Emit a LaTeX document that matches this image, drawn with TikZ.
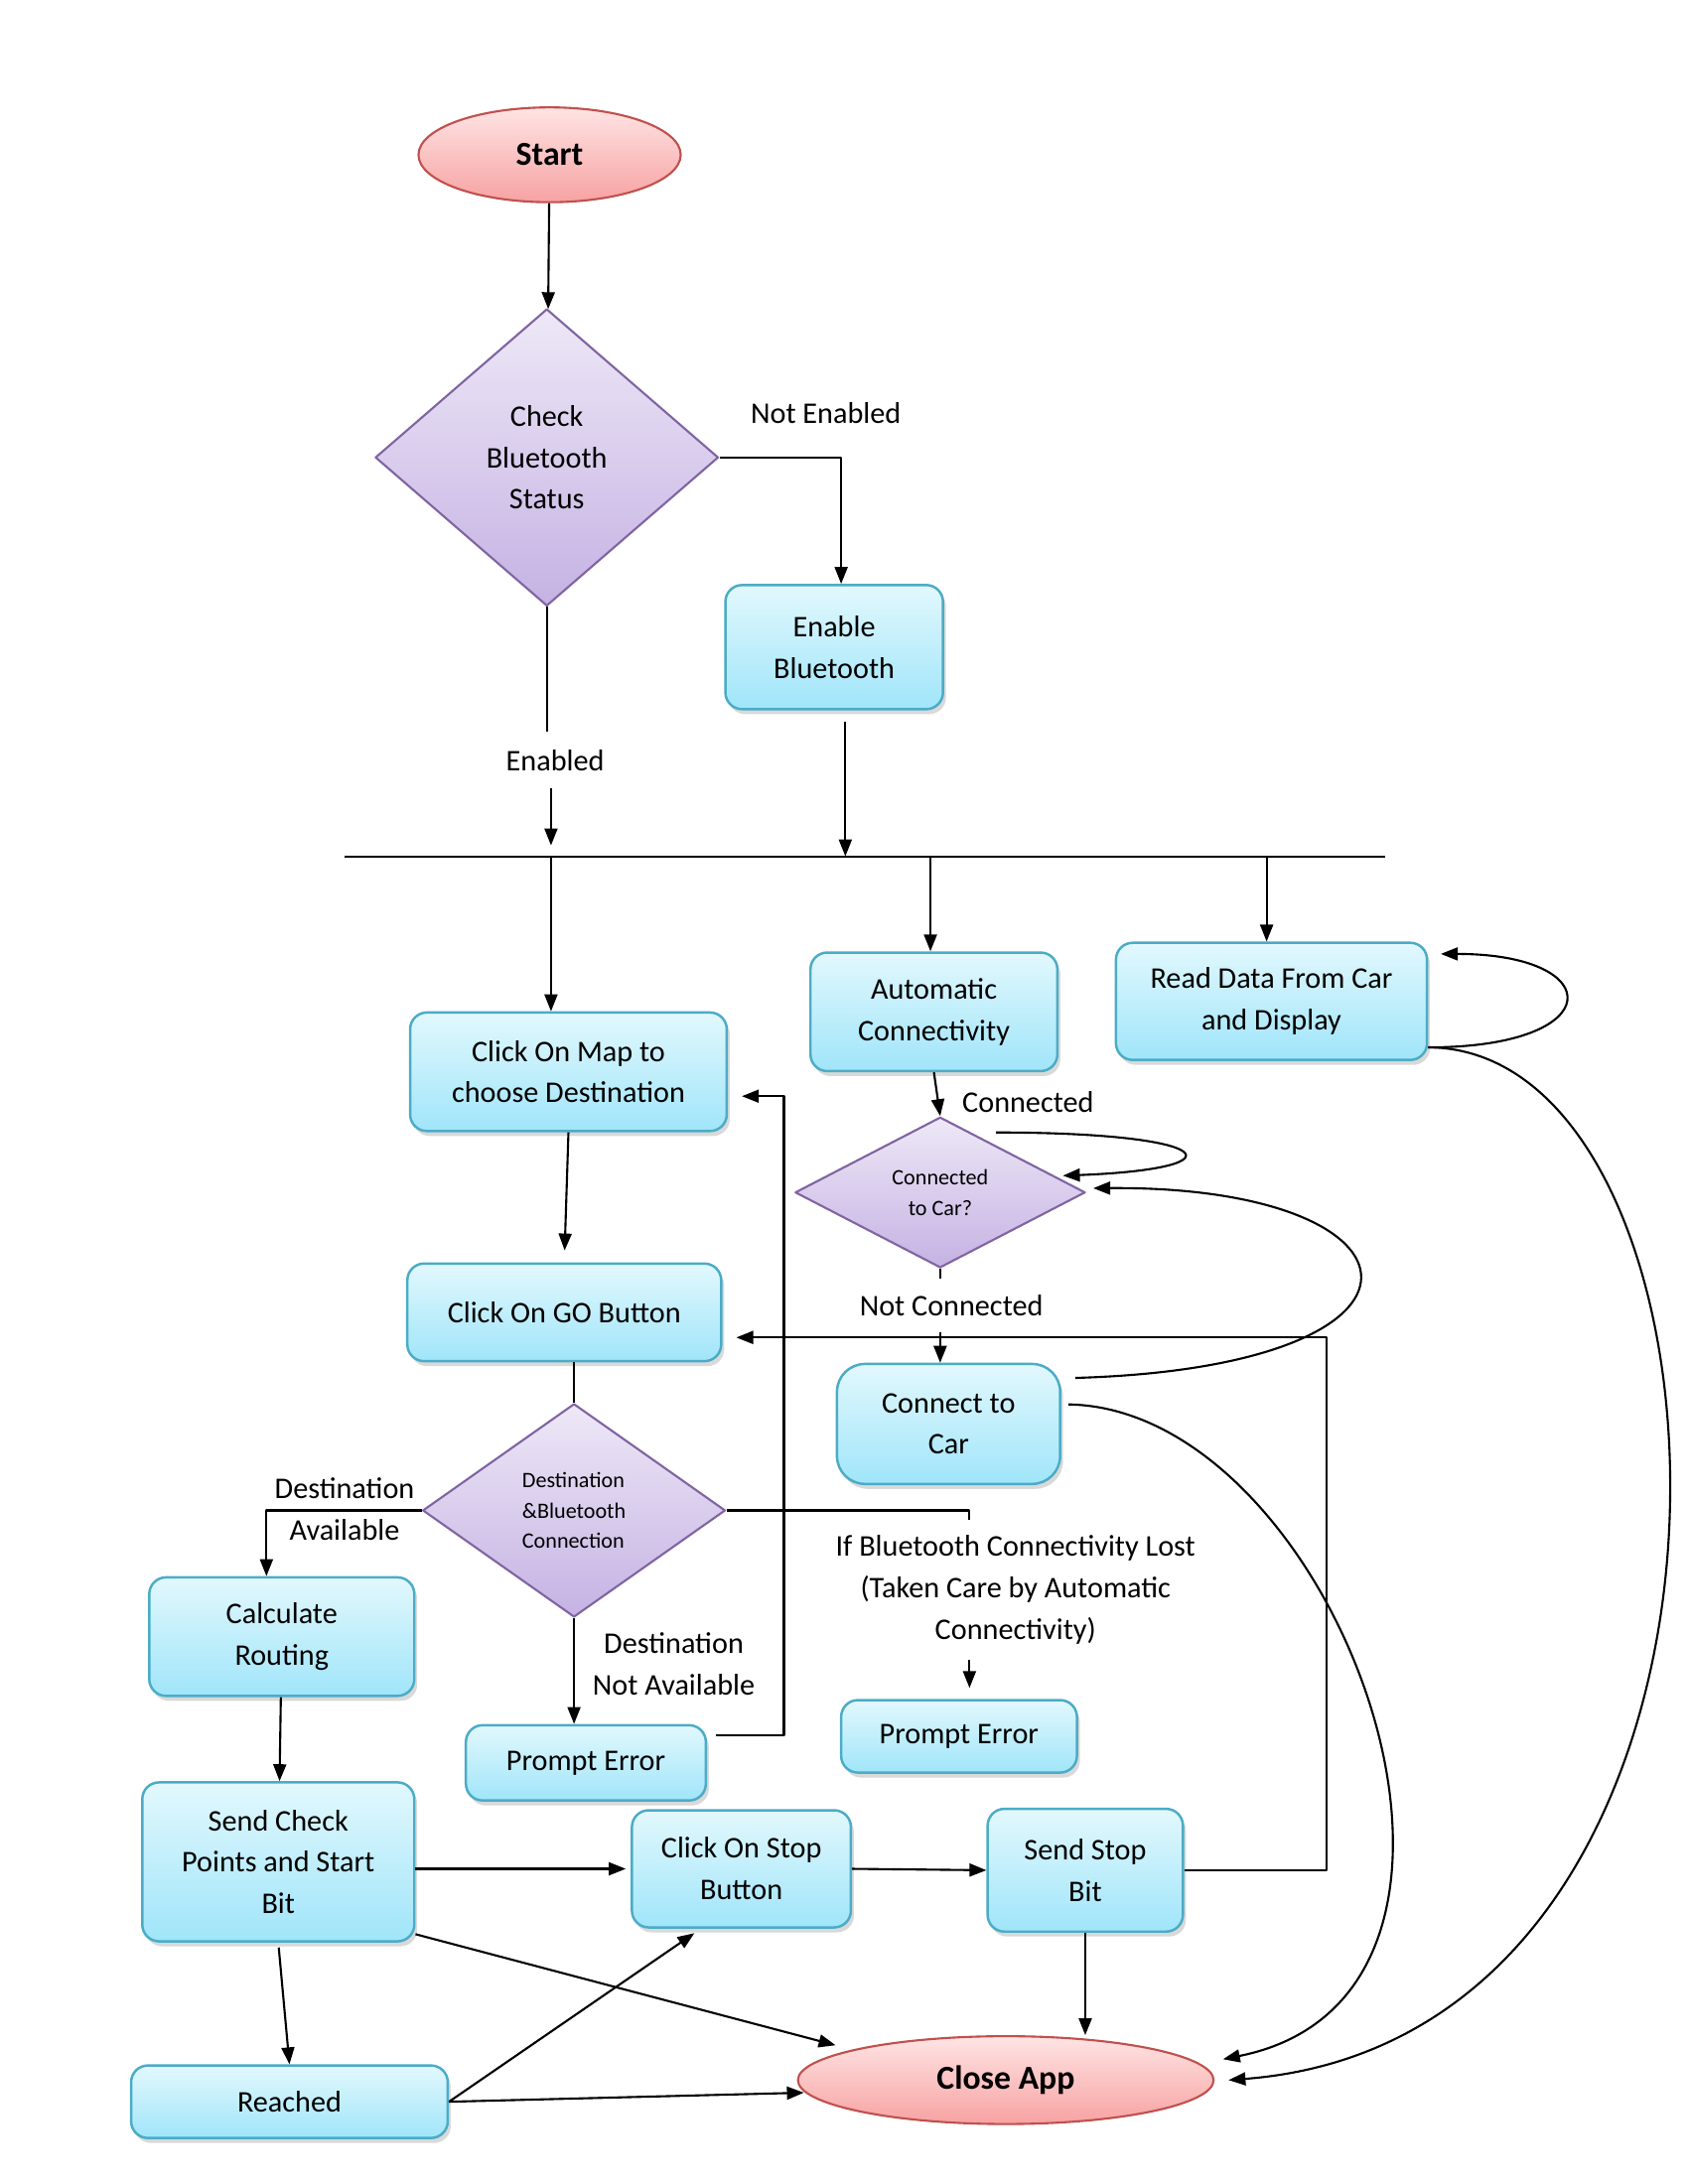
\documentclass[tikz,border=0pt]{standalone}
\usepackage{fontspec}
\setmainfont{Carlito}
\usetikzlibrary{shapes.geometric,arrows.meta,shadows}

\newlength{\px}
\setlength{\px}{0.1405mm}
\definecolor{boxline}{HTML}{4BACC6}
\definecolor{boxtop}{HTML}{E2F8FD}
\definecolor{boxbot}{HTML}{A0E5FA}
\definecolor{decline}{HTML}{8064A2}
\definecolor{dectop}{HTML}{EEE8F7}
\definecolor{decbot}{HTML}{C5B2E3}
\definecolor{endline}{HTML}{C0504D}
\definecolor{endtop}{HTML}{FFE4E4}
\definecolor{endbot}{HTML}{F7A2A2}

\begin{document}
\begin{tikzpicture}[x=\px, y=-\px, >={Triangle[length=1.7mm,width=1.3mm]},
	font=\fontsize{8.6}{11.9}\selectfont, line join=round,
	box/.style={draw=boxline, line width=0.7pt, rounded corners=12\px, top color=boxtop, bottom color=boxbot, align=center, inner sep=1pt,
		drop shadow={shadow xshift=0.3mm, shadow yshift=-0.5mm, opacity=0.3}},
	decision/.style={diamond, draw=decline, line width=0.6pt, top color=dectop, bottom color=decbot, align=center, inner sep=0pt},
	terminal/.style={ellipse, draw=endline, line width=0.6pt, top color=endtop, bottom color=endbot, font=\fontsize{9.6}{11.9}\selectfont\bfseries},
	lbl/.style={align=center, inner sep=0pt},
	small/.style={font=\fontsize{6.3}{8.8}\selectfont},
	flow/.style={->, line width=0.6pt}]
	%	\draw[color=gray!50,dashed] (0,0) grid[step=100] (1210,1566);
	\node[terminal, minimum width=188\px, minimum height=68\px] (start) at (394,111) {Start};
	\node[decision, minimum width=246\px, minimum height=213\px] (chk) at (392,328) {Check\\Bluetooth\\Status};
	\node[box, minimum width=156\px, minimum height=89\px] (enable) at (598,464) {Enable\\Bluetooth};
	\node[lbl] (nen) at (592,296) {Not Enabled};
	\node[lbl, minimum height=40\px] (en) at (398,545) {Enabled};
	\coordinate (busL) at (247,614);
	\coordinate (busR) at (993,614);
	\coordinate (b1) at (395,614);
	\coordinate (b2) at (606,614);
	\coordinate (b3) at (667,614);
	\coordinate (b4) at (908,614);
	\node[box, minimum width=227\px, minimum height=85\px] (map) at (407.5,768.5) {Click On Map to\\choose Destination};
	\node[box, minimum width=177\px, minimum height=85\px] (auto) at (669.5,725.5) {Automatic\\Connectivity};
	\node[box, minimum width=223\px, minimum height=84\px] (read) at (911.5,718) {Read Data From Car\\and Display};
	\node[decision, small, aspect=2, minimum width=208\px, minimum height=108\px] (cc) at (674,855) {Connected\\to Car?};
	\node[lbl] (lconn) at (737,790) {Connected};
	\node[lbl, minimum height=37\px] (lnc) at (682,936) {Not Connected};
	\node[box, rounded corners=20\px, minimum width=160\px, minimum height=86\px] (tocar) at (680,1021) {Connect to\\Car};
	\node[box, minimum width=225\px, minimum height=70\px] (go) at (404.5,941) {Click On GO Button};
	\node[decision, small, align=left, minimum width=217\px, minimum height=153\px] (dest) at (411.5,1083) {Destination\\\&Bluetooth\\Connection};
	\node[lbl] (ldav) at (247,1082) {Destination\\Available};
	\node[lbl] (ldna) at (483,1193) {Destination\\Not Available};
	\node[lbl, minimum height=100\px] (lost) at (728,1140) {If Bluetooth Connectivity Lost\\(Taken Care by Automatic\\Connectivity)};
	\coordinate (lostx) at (695,1082);
	\node[box, minimum width=190\px, minimum height=85\px] (calc) at (202,1173.5) {Calculate\\Routing};
	\node[box, minimum width=172\px, minimum height=54\px] (errM) at (420,1264) {Prompt Error};
	\node[box, minimum width=169\px, minimum height=52\px] (errR) at (687.5,1245) {Prompt Error};
	\node[box, minimum width=195\px, minimum height=114\px] (send) at (199.5,1335) {Send Check\\Points and Start\\Bit};
	\node[box, minimum width=157\px, minimum height=84\px] (stopbtn) at (531.5,1340) {Click On Stop\\Button};
	\node[box, minimum width=140\px, minimum height=88\px] (stopbit) at (778,1341) {Send Stop\\Bit};
	\node[terminal, minimum width=298\px, minimum height=63\px] (close) at (721,1491.5) {Close App};
	\node[box, minimum width=227\px, minimum height=52\px] (reached) at (207.5,1507) {Reached};
	\coordinate (gx) at (951,959);
	\coordinate (rx) at (562,786);
	% top part
	\draw[flow] (start) -- (chk);
	\draw[flow] (chk.east) -| ([shift={(5,0)}]enable.north);
	\draw[line width=0.6pt] (chk.south) -- (chk.south |- en.north);
	\draw[flow, shorten >=1.1mm] (b1 |- en.south) -- (b1);
	\draw[flow, shorten <=1.1mm] (b2 |- enable.south) -- (b2);
	\draw[line width=0.6pt] (busL) -- (busR);
	\draw[flow] (b1) -- (b1 |- map.north);
	\draw[flow] (b3) -- (b3 |- auto.north);
	\draw[flow] (b4) -- (b4 |- read.north);
	% right side
	\draw[flow] ([shift={(0,33)}]read.east) .. controls +(130,0) and +(120,0) .. ([shift={(9,-34)}]read.east);
	\draw[flow] ([shift={(0,33)}]read.east) .. controls (1260,752) and (1290,1460) .. ([shift={(10,0)}]close.east);
	\draw[flow] (auto.south) -- (cc.north);
	\draw[flow] ([shift={(40,-43)}]cc.center) .. controls +(160,0) and +(130,-5) .. ([shift={(88,-12)}]cc.center);
	\draw[line width=0.6pt] (cc.south) -- (cc.south |- lnc.north);
	\draw[flow] (cc.south |- lnc.south) -- (cc.south |- tocar.north);
	\draw[flow] ([shift={(10,-33)}]tocar.east) .. controls (1050,980) and (1030,850) .. ([shift={(5,-3)}]cc.east);
	\draw[flow] ([shift={(5,-14)}]tocar.east) .. controls (960,1010) and (1110,1430) .. ([shift={(6,-15)}]close.east);
	% middle column
	\draw[flow, shorten >=1.2mm] (map.south) -- (go.north);
	\draw[line width=0.6pt] (dest.north |- go.south) -- (dest.north);
	\draw[flow] (dest.west) -| ([shift={(-11,0)}]calc.north);
	\draw[flow] (dest.south) -- (dest.south |- errM.north);
	\draw[line width=0.6pt] (dest.east) -| (lostx |- lost.north);
	\draw[flow, shorten >=1.1mm] (lostx |- lost.south) -- (lostx |- errR.north);
	\draw[flow, shorten >=1.4mm] ([shift={(6,-20)}]errM.east) -| (rx) -- (map.east |- rx);
	\draw[flow, shorten >=1.4mm] (stopbit.east) -| (gx) -- (go.east |- gx);
	% bottom
	\draw[flow] (calc) -- (send);
	\draw[flow, shorten >=0.5mm] (send.east |- stopbtn.west) -- (stopbtn.west);
	\draw[flow] (stopbtn.east) -- (stopbit.west);
	\draw[flow] (stopbit.south) -- (stopbit.south |- close.north);
	\draw[flow] ([shift={(0,-6)}]send.south east) -- ([shift={(-122,-25)}]close.center);
	\draw[flow, shorten <=0.5mm] (send.south) -- (reached.north);
	\draw[flow, shorten >=0.8mm] (reached.east) -- ([shift={(-29,0)}]stopbtn.south);
	\draw[flow] (reached.east) -- ([shift={(5,9)}]close.west);
	\pgfresetboundingbox
	\useasboundingbox (0,0) rectangle (1210,1566);
\end{tikzpicture}
\end{document}
